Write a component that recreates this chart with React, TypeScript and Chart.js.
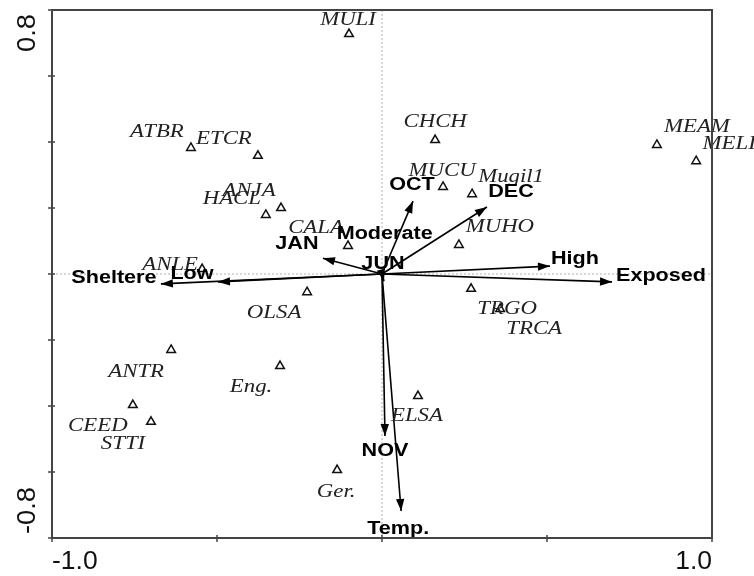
import React, { useEffect, useRef } from "react";
import { Chart, registerables } from "chart.js";

Chart.register(...registerables);

// ---- data ----
const speciesNames = ["MULI", "ATBR", "ETCR", "ANJA", "HACL", "CALA", "ANLE", "OLSA", "ANTR", "Eng.", "CEED", "STTI", "Ger.", "CHCH", "MUCU", "Mugil1", "MUHO", "MEAM", "MELI", "TRGO", "TRCA", "ELSA"];
const speciesX = [-0.1, -0.579, -0.376, -0.306, -0.352, -0.103, -0.545, -0.227, -0.639, -0.309, -0.755, -0.7, -0.136, 0.161, 0.185, 0.273, 0.233, 0.833, 0.952, 0.27, 0.358, 0.109];
const speciesY = [0.727, 0.382, 0.358, 0.2, 0.179, 0.085, 0.015, -0.055, -0.23, -0.279, -0.397, -0.448, -0.594, 0.406, 0.264, 0.242, 0.088, 0.391, 0.342, -0.045, -0.106, -0.37];

const envNames = ["Sheltere", "Low", "JAN", "Moderate", "JUN", "OCT", "DEC", "High", "Exposed", "NOV", "Temp."];
const envX = [-0.67, -0.497, -0.179, 0.002, 0.006, 0.094, 0.318, 0.509, 0.697, 0.009, 0.058];
const envY = [-0.03, -0.024, 0.048, 0.012, -0.022, 0.221, 0.203, 0.024, -0.024, -0.491, -0.718];

const xMin = -1.0, xMax = 1.0, xStep = 0.5;
const yMin = -0.8, yMax = 0.8, yStep = 0.2;

// ---- layout (pixel offsets of labels, not data) ----
const speciesLabelOffset: [number, number][] = [
  [-1, -14], [-34, -16], [-34, -17], [-32, -17], [-34, -16], [-32, -18], [-32, -4],
  [-33, 21], [-35, 22], [-29, 21], [-35, 21], [-28, 22], [-1, 22],
  [0, -18], [-1, -16], [39, -17], [41, -18], [40, -18], [33, -17], [36, 20], [34, 20], [-1, 20],
];
const envLabelOffset: [number, number][] = [
  [-47, -6], [-26, -8], [-26, -14], [2, -36], [-1, -17], [-1, -16], [24, -15], [25, -7], [49, -6], [0, 15], [-3, 18],
];
const envArrowhead: boolean[] = [true, true, true, false, true, true, true, true, true, true, true];

function stretchedText(ctx: CanvasRenderingContext2D, text: string, x: number, y: number, k: number) {
  ctx.save();
  ctx.translate(x, y);
  ctx.scale(k, 1);
  ctx.fillText(text, 0, 0);
  ctx.restore();
}

const biplotPlugin = {
  id: "biplot",
  beforeDatasetsDraw(chart: any) {
    const { ctx, chartArea: a, scales } = chart;
    const xs = scales.x, ys = scales.y;
    ctx.save();
    ctx.strokeStyle = "#b0b0b0";
    ctx.lineWidth = 1;
    ctx.setLineDash([2, 2]);
    const x0 = xs.getPixelForValue(0);
    const y0 = ys.getPixelForValue(0);
    ctx.beginPath();
    ctx.moveTo(x0, a.top);
    ctx.lineTo(x0, a.bottom);
    ctx.moveTo(a.left, y0);
    ctx.lineTo(a.right, y0);
    ctx.stroke();
    ctx.restore();
  },
  afterDatasetsDraw(chart: any) {
    const { ctx, chartArea: a, scales } = chart;
    const xs = scales.x, ys = scales.y;
    const ox = xs.getPixelForValue(0);
    const oy = ys.getPixelForValue(0);
    ctx.save();
    // arrowheads
    ctx.fillStyle = "#000";
    envNames.forEach((_, i) => {
      if (!envArrowhead[i]) return;
      const tx = xs.getPixelForValue(envX[i]);
      const ty = ys.getPixelForValue(envY[i]);
      const ang = Math.atan2(ty - oy, tx - ox);
      const L = 12, W = 4.2;
      ctx.beginPath();
      ctx.moveTo(tx, ty);
      ctx.lineTo(tx - L * Math.cos(ang) + W * Math.sin(ang), ty - L * Math.sin(ang) - W * Math.cos(ang));
      ctx.lineTo(tx - L * Math.cos(ang) - W * Math.sin(ang), ty - L * Math.sin(ang) + W * Math.cos(ang));
      ctx.closePath();
      ctx.fill();
    });
    // species labels
    ctx.font = "italic 19px 'Liberation Serif', 'Times New Roman', serif";
    ctx.fillStyle = "#222";
    ctx.textAlign = "center";
    ctx.textBaseline = "middle";
    speciesNames.forEach((n, i) => {
      const px = xs.getPixelForValue(speciesX[i]) + speciesLabelOffset[i][0];
      const py = ys.getPixelForValue(speciesY[i]) + speciesLabelOffset[i][1];
      stretchedText(ctx, n, px, py, 1.2);
    });
    // env labels
    ctx.font = "bold 18px 'Liberation Sans', Arial, sans-serif";
    ctx.fillStyle = "#000";
    envNames.forEach((n, i) => {
      const px = xs.getPixelForValue(envX[i]) + envLabelOffset[i][0];
      const py = ys.getPixelForValue(envY[i]) + envLabelOffset[i][1];
      stretchedText(ctx, n, px, py, 1.2);
    });
    // frame
    ctx.strokeStyle = "#444";
    ctx.lineWidth = 2;
    ctx.strokeRect(a.left, a.top, a.right - a.left, a.bottom - a.top);
    // tick marks
    ctx.lineWidth = 1.5;
    ctx.beginPath();
    xs.ticks.forEach((t: any) => {
      const p = xs.getPixelForValue(t.value);
      ctx.moveTo(p, a.bottom - 3);
      ctx.lineTo(p, a.bottom + 4);
    });
    ys.ticks.forEach((t: any) => {
      const p = ys.getPixelForValue(t.value);
      ctx.moveTo(a.left - 4, p);
      ctx.lineTo(a.left + 3, p);
    });
    ctx.stroke();
    // tick labels (ends only, aligned inward)
    ctx.font = "26px 'Liberation Sans', Arial, sans-serif";
    ctx.fillStyle = "#111";
    ctx.textBaseline = "top";
    const xt = xs.ticks;
    const first = xt[0], last = xt[xt.length - 1];
    ctx.save();
    ctx.translate(xs.getPixelForValue(first.value), a.bottom + 11);
    ctx.scale(1.02, 1);
    ctx.textAlign = "left";
    ctx.fillText(first.value.toFixed(1), 0, 0);
    ctx.restore();
    ctx.save();
    ctx.translate(xs.getPixelForValue(last.value), a.bottom + 11);
    ctx.scale(1.02, 1);
    ctx.textAlign = "right";
    ctx.fillText(last.value.toFixed(1), 0, 0);
    ctx.restore();
    const yt = ys.ticks;
    const yFirst = yt[0], yLast = yt[yt.length - 1];
    ctx.textBaseline = "middle";
    ctx.save();
    ctx.translate(a.left - 24, ys.getPixelForValue(yLast.value) + 4);
    ctx.rotate(-Math.PI / 2);
    ctx.scale(1.05, 1);
    ctx.textAlign = "right";
    ctx.fillText(yLast.value.toFixed(1), 0, 0);
    ctx.restore();
    ctx.save();
    ctx.translate(a.left - 24, ys.getPixelForValue(yFirst.value) - 4);
    ctx.rotate(-Math.PI / 2);
    ctx.scale(1.05, 1);
    ctx.textAlign = "left";
    ctx.fillText(yFirst.value.toFixed(1), 0, 0);
    ctx.restore();
    ctx.restore();
  },
};

export default function App() {
  const ref = useRef<HTMLCanvasElement | null>(null);
  useEffect(() => {
    if (!ref.current) return;
    const arrowSets = envNames.map((n, i) => ({
      type: "line" as const,
      label: n,
      data: [{ x: 0, y: 0 }, { x: envX[i], y: envY[i] }],
      showLine: true,
      borderColor: "#000",
      borderWidth: 1.6,
      pointRadius: 0,
      fill: false,
      order: 2,
    }));
    const chart = new Chart(ref.current, {
      type: "scatter",
      data: {
        datasets: [
          {
            label: "species",
            data: speciesNames.map((_, i) => ({ x: speciesX[i], y: speciesY[i] })),
            pointStyle: "triangle",
            pointRadius: 5,
            pointBorderColor: "#111",
            pointBackgroundColor: "#fff",
            pointBorderWidth: 1.5,
            order: 1,
          } as any,
          ...arrowSets,
        ],
      },
      options: {
        animation: false,
        responsive: true,
        maintainAspectRatio: false,
        layout: { padding: { top: 10, right: 42, left: 0, bottom: 0 } },
        plugins: { legend: { display: false }, tooltip: { enabled: false } },
        scales: {
          x: {
            type: "linear",
            min: xMin,
            max: xMax,
            ticks: { stepSize: xStep, display: false },
            grid: { display: false },
            border: { display: false },
            afterFit: (s: any) => { s.height = 38; },
          },
          y: {
            type: "linear",
            min: yMin,
            max: yMax,
            ticks: { stepSize: yStep, display: false },
            grid: { display: false },
            border: { display: false },
            afterFit: (s: any) => { s.width = 52; },
          },
        },
      },
      plugins: [biplotPlugin],
    });
    return () => chart.destroy();
  }, []);
  return (
    <div style={{ position: "fixed", left: 0, top: 0, width: 754, height: 576, background: "#fff" }}>
      <canvas ref={ref} />
    </div>
  );
}
